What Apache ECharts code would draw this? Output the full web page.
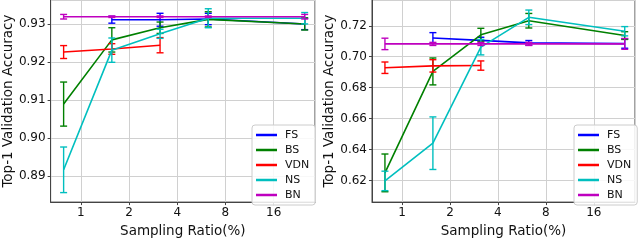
<!DOCTYPE html>
<html><head><meta charset="utf-8">
<script src="https://cdn.jsdelivr.net/npm/echarts@6/dist/echarts.min.js"></script>
<style>html,body{margin:0;padding:0;background:#fff}#c{width:640px;height:243px}</style>
</head><body><div id="c"></div>
<script>
const ratios = [0.78125, 1.5625, 3.125, 6.25, 25];
const seriesNames = ['FS', 'BS', 'VDN', 'NS', 'BN'];
const colors = ['#0000ff', '#008000', '#ff0000', '#00bfbf', '#bf00bf'];
const xTickLabels = ['1', '2', '4', '8', '16'];

// Left panel
const L_FS = [null, 0.9312, 0.9312, 0.9314, 0.9301];
const L_FS_err = [null, 0.0009, 0.0017, 0.0015, 0.0015];
const L_BS = [0.9090, 0.9259, 0.9291, 0.9313, 0.9301];
const L_BS_err = [0.0058, 0.0032, 0.0015, 0.0020, 0.0016];
const L_VDN = [0.9227, 0.9235, 0.9245, null, null];
const L_VDN_err = [0.0017, 0.0014, 0.0020, null, null];
const L_NS = [0.8917, 0.9232, 0.9275, 0.9316, 0.9316];
const L_NS_err = [0.0060, 0.0032, 0.0012, 0.0025, 0.0015];
const L_BN = [0.9320, 0.9320, 0.9320, 0.9320, 0.9320];
const L_BN_err = [0.0006, 0.0002, 0.0002, 0.0002, 0.0006];

// Right panel
const R_FS = [null, 0.7121, 0.7106, 0.7090, 0.7085];
const R_FS_err = [null, 0.0035, 0.0020, 0.0015, 0.0030];
const R_BS = [0.6249, 0.6905, 0.7142, 0.7233, 0.7137];
const R_BS_err = [0.0122, 0.0087, 0.0042, 0.0047, 0.0025];
const R_VDN = [0.6929, 0.6941, 0.6943, null, null];
const R_VDN_err = [0.0037, 0.0040, 0.0030, null, null];
const R_NS = [0.6197, 0.6441, 0.7062, 0.7255, 0.7165];
const R_NS_err = [0.0063, 0.0170, 0.0050, 0.0047, 0.0030];
const R_BN = [0.7083, 0.7083, 0.7083, 0.7083, 0.7083];
const R_BN_err = [0.0037, 0.0010, 0.0010, 0.0010, 0.0035];

const leftVals = [L_FS, L_BS, L_VDN, L_NS, L_BN];
const leftErrs = [L_FS_err, L_BS_err, L_VDN_err, L_NS_err, L_BN_err];
const rightVals = [R_FS, R_BS, R_VDN, R_NS, R_BN];
const rightErrs = [R_FS_err, R_BS_err, R_VDN_err, R_NS_err, R_BN_err];

const FONT = 'DejaVu Sans';
const frameColor = '#444';
const gridColor = '#d0d0d0';

function xAxis(gi) {
  return {
    type: 'log', logBase: 2, gridIndex: gi, min: 0.648, max: 29,
    name: 'Sampling Ratio(%)', nameLocation: 'middle', nameGap: 21,
    nameTextStyle: { fontFamily: FONT, fontSize: 13.5, color: '#111' },
    axisLine: { show: true, lineStyle: { color: frameColor, width: 1 } },
    axisTick: { show: true, length: 3, inside: false, lineStyle: { color: frameColor } },
    axisLabel: { fontFamily: FONT, fontSize: 12, color: '#111', margin: 5,
      showMinLabel: false, showMaxLabel: false,
      formatter: v => { const r = Math.round(v); const s = String(r); return (Math.abs(v - r) < 1e-6 && xTickLabels.indexOf(s) >= 0) ? s : ''; } },
    splitLine: { show: true, lineStyle: { color: gridColor, width: 1 } },
    minorTick: { show: false }
  };
}
function yAxis(gi, min, max, split) {
  return {
    type: 'value', gridIndex: gi, min: min, max: max, splitNumber: split,
    name: 'Top-1 Validation Accuracy', nameLocation: 'middle', nameGap: 35,
    nameTextStyle: { fontFamily: FONT, fontSize: 13.5, color: '#111' },
    axisLine: { show: true, lineStyle: { color: frameColor, width: 1 } },
    axisTick: { show: true, length: 3, lineStyle: { color: frameColor } },
    axisLabel: { fontFamily: FONT, fontSize: 12, color: '#111', margin: 5,
      showMinLabel: false, showMaxLabel: false,
      formatter: v => v.toFixed(2) },
    splitLine: { show: true, lineStyle: { color: gridColor, width: 1 } }
  };
}

function buildSeries(gi, vals, errs) {
  const out = [];
  vals.forEach((arr, si) => {
    const pts = [];
    const eb = [];
    arr.forEach((v, i) => {
      if (v == null) return;
      pts.push([ratios[i], v]);
      eb.push([ratios[i], v - errs[si][i], v + errs[si][i]]);
    });
    out.push({
      type: 'custom', name: seriesNames[si] + '_err' + gi, xAxisIndex: gi, yAxisIndex: gi,
      z: 2 + si, silent: true,
      renderItem: function (params, api) {
        const x = api.value(0), lo = api.value(1), hi = api.value(2);
        const a = api.coord([x, hi]), b = api.coord([x, lo]);
        const w = 3.5;
        const st = { stroke: colors[si], lineWidth: 1.4, fill: null };
        return { type: 'group', children: [
          { type: 'line', shape: { x1: a[0], y1: a[1], x2: b[0], y2: b[1] }, style: st },
          { type: 'line', shape: { x1: a[0] - w, y1: a[1], x2: a[0] + w, y2: a[1] }, style: st },
          { type: 'line', shape: { x1: b[0] - w, y1: b[1], x2: b[0] + w, y2: b[1] }, style: st }
        ]};
      },
      encode: { x: 0, y: [1, 2] },
      data: eb
    });
    out.push({
      type: 'line', name: seriesNames[si], xAxisIndex: gi, yAxisIndex: gi,
      z: 2 + si, symbol: 'none', silent: true,
      lineStyle: { color: colors[si], width: 1.6 },
      itemStyle: { color: colors[si] },
      data: pts
    });
  });
  return out;
}

function legend(left) {
  return {
    orient: 'vertical', left: left, top: 125,
    data: seriesNames,
    icon: 'rect', itemWidth: 21, itemHeight: 2.5, itemGap: 3,
    padding: [4, 6, 4, 4],
    backgroundColor: 'rgba(255,255,255,0.85)',
    borderColor: '#cccccc', borderWidth: 1, borderRadius: 3,
    textStyle: { fontFamily: FONT, fontSize: 11, color: '#111', lineHeight: 12, padding: [0, 0, 0, 3] },
    selectedMode: false
  };
}

const chart = echarts.init(document.getElementById('c'), null, { renderer: 'canvas' });
chart.setOption({
  animation: false,
  backgroundColor: '#fff',
  grid: [
    { left: 49, top: 0, width: 266, height: 209, show: true, borderColor: frameColor, borderWidth: 1, backgroundColor: 'transparent' },
    { left: 372, top: 0, width: 263, height: 208, show: true, borderColor: frameColor, borderWidth: 1, backgroundColor: 'transparent' }
  ],
  xAxis: [xAxis(0), xAxis(1)],
  yAxis: [yAxis(0, 0.8832, 0.9364, 5), yAxis(1, 0.606, 0.7367, 6)],
  legend: [legend(252), legend(574)],
  series: buildSeries(0, leftVals, leftErrs).concat(buildSeries(1, rightVals, rightErrs))
});
</script></body></html>
